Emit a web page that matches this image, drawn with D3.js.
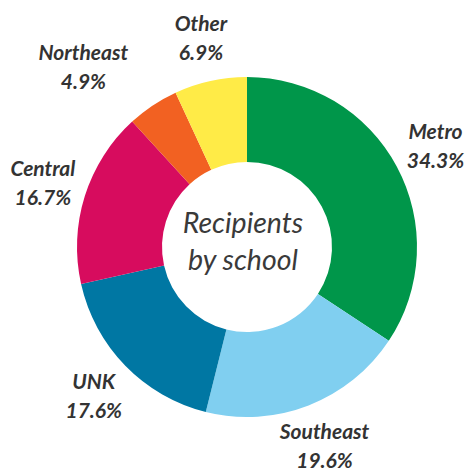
<!DOCTYPE html>
<html>
<head>
<meta charset="utf-8">
<script src="https://cdn.jsdelivr.net/npm/d3@7"></script>
<style>
  html, body { margin: 0; padding: 0; background: #fff; }
  svg { display: block; }
</style>
</head>
<body>
<svg id="chart" width="469" height="471"></svg>
<script>
const categories = ["Metro", "Southeast", "UNK", "Central", "Northeast", "Other"];
const values = [34.3, 19.6, 17.6, 16.7, 4.9, 6.9];
const colors = ["#00964A", "#80CFF0", "#0077A3", "#D70C5E", "#F26122", "#FFEB47"];
const centerLines = ["Recipients", "by school"];

const W = 469, H = 471;
const cx = 247, cy = 247;
const outerR = 170, innerR = 85, labelR = 214;
// layout nudge to keep the small "Northeast" label clear of "Other"
const labelNudge = { Northeast: [-45, -2] };

const svg = d3.select("#chart");
const g = svg.append("g").attr("transform", `translate(${cx},${cy})`);

const data = categories.map((c, i) => ({ name: c, value: values[i], color: colors[i] }));
const pie = d3.pie().value(d => d.value).sort(null).startAngle(0).endAngle(2 * Math.PI);
const arcs = pie(data);
const arc = d3.arc().innerRadius(innerR).outerRadius(outerR);
const labelArc = d3.arc().innerRadius(labelR).outerRadius(labelR);

g.selectAll("path.slice")
  .data(arcs)
  .enter().append("path")
  .attr("class", "slice")
  .attr("d", arc)
  .attr("fill", d => d.data.color);

const lbl = g.selectAll("g.lbl")
  .data(arcs)
  .enter().append("g")
  .attr("class", "lbl")
  .attr("transform", d => {
    const [x, y] = labelArc.centroid(d);
    const n = labelNudge[d.data.name] || [0, 0];
    return `translate(${x + n[0]},${y + n[1]})`;
  });

const labelStyle = sel => sel
  .attr("text-anchor", "middle")
  .style("font-family", "Lato, sans-serif")
  .style("font-style", "italic")
  .style("font-weight", "bold")
  .style("font-size", "21px")
  .attr("fill", "#333333");

lbl.append("text")
  .call(labelStyle)
  .attr("y", -7)
  .text(d => d.data.name);

lbl.append("text")
  .call(labelStyle)
  .attr("y", 22)
  .text(d => d3.format(".1f")(d.data.value) + "%");

svg.append("g")
  .selectAll("text")
  .data(centerLines)
  .enter().append("text")
  .attr("x", 243)
  .attr("y", (d, i) => 233 + i * 37)
  .attr("text-anchor", "middle")
  .style("font-family", "Lato, sans-serif")
  .style("font-style", "italic")
  .style("font-size", "28.5px")
  .attr("fill", "#3a3a3a")
  .text(d => d);
</script>
</body>
</html>
